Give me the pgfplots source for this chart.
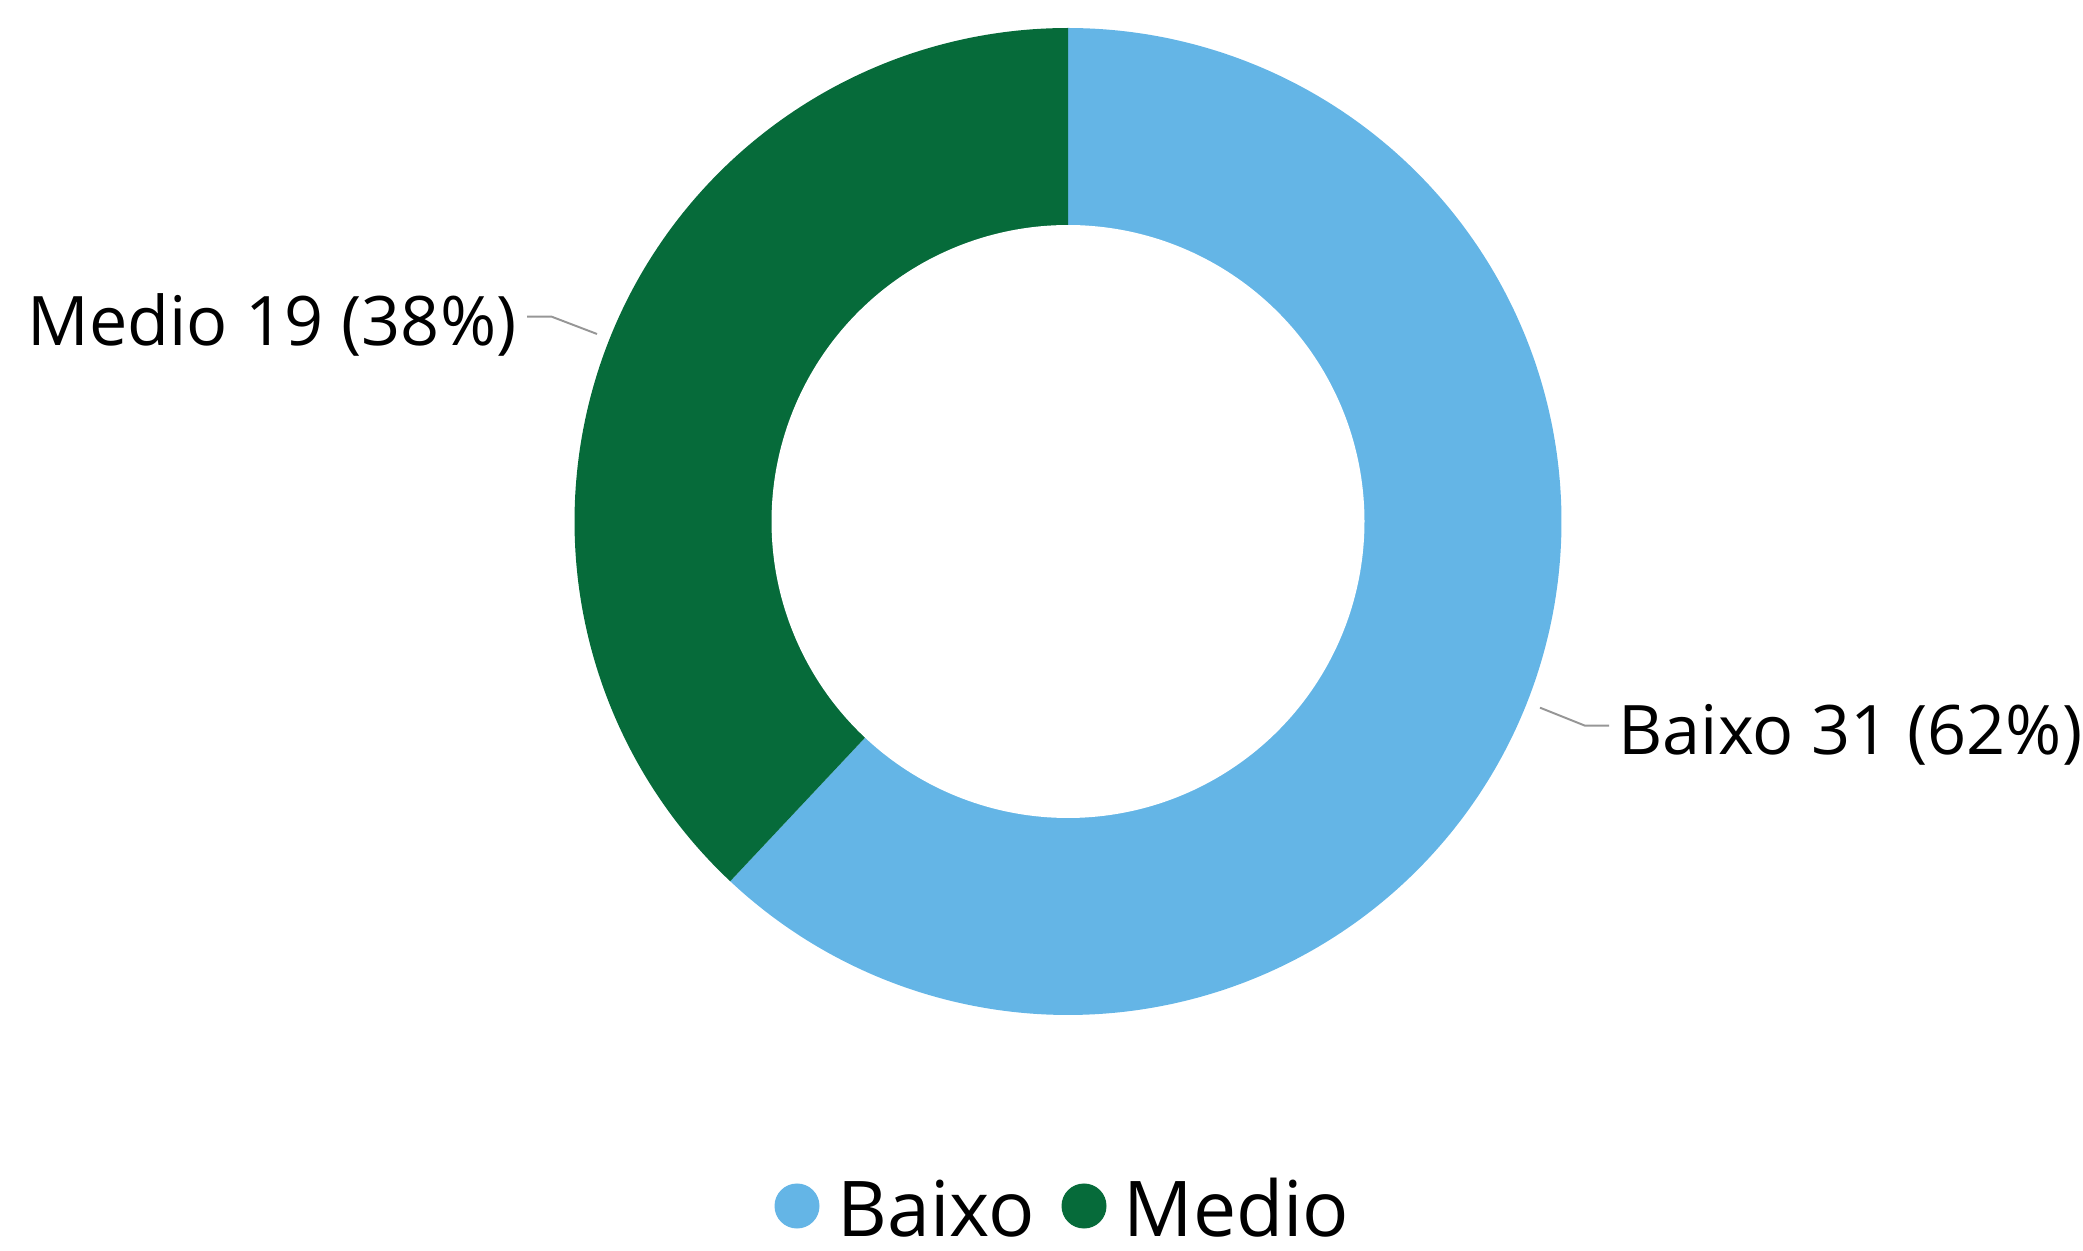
\documentclass[border=0pt]{standalone}
\usepackage{pgfplots}
\pgfplotsset{compat=1.18}
\usepackage{fontspec}
\setmainfont{Open Sans}
\definecolor{cBlue}{RGB}{100,181,230}
\definecolor{cGreen}{RGB}{6,107,58}
\definecolor{cLead}{RGB}{150,150,150}
\begin{document}
\begin{tikzpicture}
\useasboundingbox (0,0) rectangle (749.88pt,450pt);
% data
\def\valA{31}% Baixo
\def\valB{19}% Medio
\pgfmathsetmacro\angA{90-360*\valA/(\valA+\valB)}
\pgfmathsetmacro\angB{\angA-360*\valB/(\valA+\valB)}
\begin{axis}[
  at={(0,0)}, anchor=south west,
  scale only axis, width=749.88pt, height=450pt,
  xmin=0, xmax=2083, ymin=0, ymax=1250,
  hide axis, clip=false,
]
\addplot[fill=cBlue, draw=none, domain=90:\angA, samples=300, variable=\t]
  ({1068+493.5*cos(\t)},{728.5+493.5*sin(\t)}) -- (axis cs:1068,728.5) -- cycle;
\addplot[fill=cGreen, draw=none, domain=\angA:\angB, samples=300, variable=\t]
  ({1068+493.5*cos(\t)},{728.5+493.5*sin(\t)}) -- (axis cs:1068,728.5) -- cycle;
\addplot[fill=white, draw=none, domain=0:360, samples=300, variable=\t]
  ({1068+296.5*cos(\t)},{728.5+296.5*sin(\t)}) -- cycle;
% leader lines
\addplot[cLead, line width=0.7pt] coordinates {(527,933.3) (551.7,933.3) (597,916)};
\addplot[cLead, line width=0.7pt] coordinates {(1540,542.3) (1585,524.3) (1609,524.3)};
% labels
\node[anchor=base west, inner sep=0pt, font=\fontsize{24.6}{30}\selectfont] at (axis cs:27,904) {Medio 19 (38\%)};
\node[anchor=base west, inner sep=0pt, font=\fontsize{24.6}{30}\selectfont] at (axis cs:1618,495) {Baixo 31 (62\%)};
% legend
\addplot[only marks, mark=*, mark size=7.9pt, cBlue] coordinates {(797,44)};
\addplot[only marks, mark=*, mark size=7.9pt, cGreen] coordinates {(1084,44)};
\node[anchor=base west, inner sep=0pt, font=\fontsize{27.7}{34}\selectfont] at (axis cs:837,13) {Baixo};
\node[anchor=base west, inner sep=0pt, font=\fontsize{27.7}{34}\selectfont] at (axis cs:1123,13) {Medio};
\end{axis}
\end{tikzpicture}
\end{document}
